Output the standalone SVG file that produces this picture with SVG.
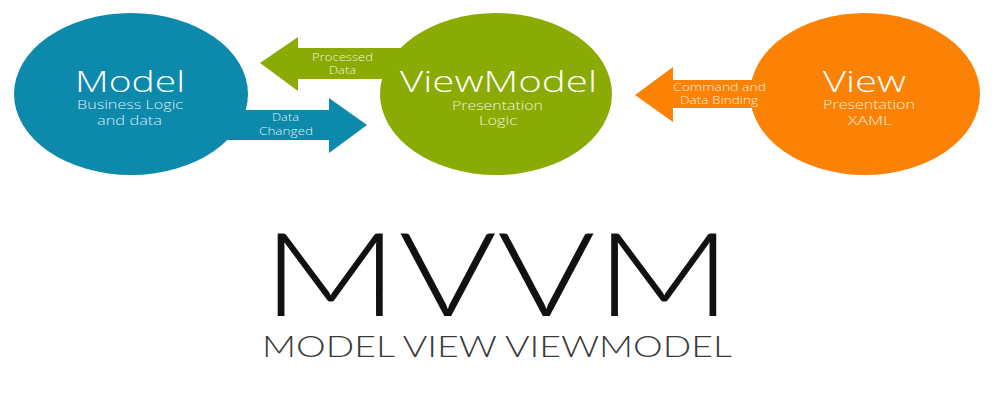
<svg xmlns="http://www.w3.org/2000/svg" width="1003" height="396" viewBox="0 0 1003 396">
  <style>
    .t { font-family: "Open Sans", "Segoe UI", "Liberation Sans", sans-serif; font-weight: 300; fill: #ffffff; }
    .big { font-size: 30px; }
    .sub { font-size: 12.5px; fill-opacity: 0.88; }
    .lbl { font-size: 11px; fill-opacity: 0.9; }
    .title { font-family: Lato, "Open Sans", "Liberation Sans", sans-serif; font-weight: 300; }
  </style>
  <rect width="1003" height="396" fill="#ffffff"/>
  <g id="node-model">
    <ellipse cx="131" cy="94" rx="117" ry="81" fill="#0d89ac"/>
    <text class="t big" x="75" y="92" textLength="110" lengthAdjust="spacingAndGlyphs">Model</text>
    <text class="t sub" x="77" y="109" textLength="106" lengthAdjust="spacingAndGlyphs">Business Logic</text>
    <text class="t sub" x="97" y="125" textLength="65" lengthAdjust="spacingAndGlyphs">and data</text>
  </g>
  <g id="node-viewmodel">
    <ellipse cx="496" cy="94" rx="116" ry="81" fill="#8aab04"/>
    <text class="t big" x="400" y="92" textLength="197" lengthAdjust="spacingAndGlyphs">ViewModel</text>
    <text class="t sub" x="452" y="110" textLength="91" lengthAdjust="spacingAndGlyphs">Presentation</text>
    <text class="t sub" x="479" y="125" textLength="38" lengthAdjust="spacingAndGlyphs">Logic</text>
  </g>
  <g id="node-view">
    <ellipse cx="865" cy="94" rx="115" ry="81" fill="#fc8205"/>
    <text class="t big" x="823" y="92" textLength="83" lengthAdjust="spacingAndGlyphs">View</text>
    <text class="t sub" x="823" y="109" textLength="92" lengthAdjust="spacingAndGlyphs">Presentation</text>
    <text class="t sub" x="848" y="125" textLength="44" lengthAdjust="spacingAndGlyphs">XAML</text>
  </g>
  <g id="connectors">
    <g id="edge-processed-data">
      <path d="M260,63 L298,37 L298,48 L403,48 L385,79 L298,79 L298,91 Z" fill="#8aab04"/>
      <text class="t lbl" x="312" y="61" textLength="61" lengthAdjust="spacingAndGlyphs">Processed</text>
      <text class="t lbl" x="329" y="74" textLength="27" lengthAdjust="spacingAndGlyphs">Data</text>
    </g>
    <g id="edge-data-changed">
      <path d="M205,110 L329,110 L329,98 L367,125 L329,153 L329,140 L205,140 Z" fill="#0d89ac"/>
      <text class="t lbl" x="272" y="121" textLength="27" lengthAdjust="spacingAndGlyphs">Data</text>
      <text class="t lbl" x="259" y="135" textLength="54" lengthAdjust="spacingAndGlyphs">Changed</text>
    </g>
    <g id="edge-command-binding">
      <path d="M635,95 L673,67 L673,80 L785,80 L785,108 L673,108 L673,122 Z" fill="#fc8205"/>
      <text class="t lbl" x="673" y="91" textLength="93" lengthAdjust="spacingAndGlyphs">Command and</text>
      <text class="t lbl" x="680" y="104" textLength="78" lengthAdjust="spacingAndGlyphs">Data Binding</text>
    </g>
  </g>
  <g id="title">
    <text class="title" x="262" y="316" font-size="117" fill="#111111" textLength="470" lengthAdjust="spacingAndGlyphs">MVVM</text>
    <text class="title" x="262" y="357" font-size="29" fill="#3a3a3a" textLength="470" lengthAdjust="spacingAndGlyphs">MODEL VIEW VIEWMODEL</text>
  </g>
</svg>
